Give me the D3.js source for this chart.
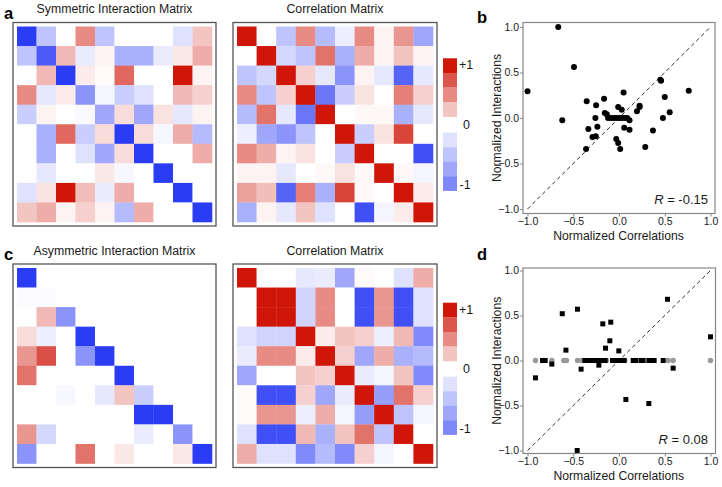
<!DOCTYPE html>
<html><head><meta charset="utf-8">
<script src="https://cdn.jsdelivr.net/npm/d3@7"></script>
<style>body{margin:0;background:#fff}svg{display:block}text{font-family:"Liberation Sans",Arial,Helvetica,sans-serif;fill:#1a1a1a}</style>
</head><body><svg id="chart" width="722" height="487"></svg>
<script>
// ---------- data ----------
const symInteraction = [
  [-1,-0.3,0,0.5,-0.3,0,0,0,-0.15,0.25],
  [-0.3,-0.85,0.3,-0.1,0.05,-0.4,-0.4,-0.1,0.1,0.35],
  [0,0.3,-1,0.08,0.02,0.65,0,0,1,0.05],
  [0.5,-0.12,0.08,-0.55,-0.05,-0.25,-0.15,0,0.3,0.2],
  [-0.25,0.05,0,-0.03,-0.45,0.15,-0.45,0.12,-0.12,0.05],
  [0,-0.4,0.65,-0.25,0.15,-1,0.15,-0.04,0.35,-0.35],
  [0,-0.4,0,-0.15,-0.45,0.15,-1,0,0,0.35],
  [0,-0.12,0,0,0.1,-0.04,0,-1,0,0],
  [-0.15,0.12,1,0.28,-0.1,0.35,0,0,-1,0],
  [0.25,0.35,0.05,0.2,0.05,-0.35,0.35,0,0,-1]
];
const corrTop = [
  [1,0,-0.3,0.5,-0.35,-0.08,0.5,0.05,0.45,-0.45],
  [0,1,-0.2,-0.3,0.6,-0.4,0.35,0.05,0.25,0.05],
  [-0.3,-0.2,1,0.2,-0.12,-0.55,0.05,-0.12,-0.8,-0.12],
  [0.5,-0.3,0.2,1,-0.7,-0.25,0.12,0,0.55,0.2],
  [-0.35,0.6,-0.12,-0.7,1,0,0.03,0.03,-0.4,-0.12],
  [-0.08,-0.45,-0.55,-0.3,0,1,-0.25,0.12,0.8,0],
  [0.5,0.35,0.05,0.12,0,-0.25,1,0,0,-0.9],
  [0.05,0.05,-0.12,0,0.03,0.12,0.03,1,0.03,-0.05],
  [0.4,0.28,-0.8,0.55,-0.4,0.8,0.03,0,1,0.08],
  [-0.4,0.05,-0.12,0.25,-0.15,0,-0.9,-0.05,0.08,1]
];
const asymInteraction = [
  [-1,0,0,0,0,0,0,0,0,0],
  [-0.02,-0.02,0,0,0,0,0,0,0,0],
  [0,0.3,-0.55,0,0,0,0,0,0,0],
  [0.15,-0.08,0,-1,0,0,0,0,0,0],
  [0.45,0.75,0,-0.55,-1,0,0,0,0,0],
  [0.6,0,0,0,0,-1,0,0,0,0],
  [0,0,-0.04,0,-0.12,0.25,-0.25,0,0,0],
  [0,0,0,0,0,0,-1,-1,0,0],
  [0.45,-0.2,0,0,0,0,-0.1,0,-0.55,0],
  [-0.55,0,0,0.6,0,0.1,0,0,0.1,-1]
];
const corrBottom = [
  [1,0,0,-0.12,-0.1,-0.45,0.02,0,-0.15,0.35],
  [0,1,1,-0.22,0.5,0,-0.9,0.45,-0.9,-0.15],
  [0,1,1,-0.22,0.5,0,-0.9,0.45,-0.9,-0.15],
  [-0.15,-0.22,-0.22,1,0.08,0.25,0.2,-0.08,0.3,-0.6],
  [-0.1,0.5,0.5,0.08,1,0.2,-0.45,0.35,-0.4,-0.35],
  [-0.45,0,0,0.25,0.2,1,-0.1,-0.05,0.25,-0.6],
  [0.02,-0.9,-0.9,0.2,-0.45,-0.1,1,-0.5,0.6,0.2],
  [0.02,0.45,0.45,-0.08,0.35,-0.05,-0.5,1,-0.3,-0.05],
  [-0.15,-0.9,-0.9,0.3,-0.4,0.25,0.6,-0.3,1,0],
  [0.35,-0.15,-0.15,-0.6,-0.35,-0.6,0.2,-0.05,0,1]
];
const legendRed = [1, 0.73, 0.5, 0.25];
const legendBlue = [-0.15, -0.3, -0.45, -0.61];
const legendLabels = ["+1", "0", "-1"];
const tickValues = [-1, -0.5, 0, 0.5, 1];
const scatterB = [
  [-0.664,1.0],[-1.0,0.293],[-0.492,0.56],[-0.62,-0.026],[-0.353,0.183],[-0.335,-0.121],
  [-0.36,-0.34],[-0.25,0.14],[-0.258,0.0],[-0.29,-0.209],[-0.254,-0.2],[-0.236,-0.095],
  [-0.163,0.212],[-0.155,0.055],[-0.133,0.04],[-0.12,0],[-0.09,0],[-0.06,0],[-0.03,0],
  [0,0],[0.03,0],[0.06,0],[0.09,0],[-0.009,0.12],[0.03,0.09],[0.05,0.28],[0.057,-0.106],
  [0.115,-0.128],[0.115,-0.026],[-0.03,-0.23],[-0.009,-0.275],[0.013,-0.34],[0.196,0.073],
  [0.225,0.12],[0.225,0.135],[0.287,-0.32],[0.371,-0.136],[0.452,0.42],[0.46,0.41],
  [0.5,0.23],[0.48,0.0],[0.554,0.062],[0.762,0.3]
];
const scatterDGray = [
  [-0.913,0],[-0.821,0],[-0.734,0],[-0.603,0],[-0.574,0],[-0.454,0],[-0.41,0],[-0.228,0],
  [-0.137,0],[-0.002,0],[0.064,0],[0.18,0],[0.355,0],[0.537,0],[0.592,0],[1.0,0]
];
const scatterDSquares = [
  [-0.913,-0.193],[-0.836,0],[-0.807,0],[-0.734,-0.04],[-0.62,0.52],[-0.58,0.115],
  [-0.454,0.57],[-0.414,-0.096],[-0.373,0],[-0.344,0],[-0.315,0],[-0.286,0],[-0.257,0],
  [-0.22,-0.052],[-0.209,0],[-0.18,0],[-0.151,0],[-0.177,0.407],[-0.147,0.137],[-0.1,0.219],
  [-0.09,0.426],[-0.071,0],[-0.042,0],[-0.016,0],[0.009,0],[0.035,0],[0.056,0],
  [-0.002,0.107],[0.075,-0.433],[0.155,0],[0.18,0],[0.239,0],[0.264,0],[0.326,0],
  [0.355,0],[0.384,0],[0.326,-0.478],[0.483,0],[0.53,0.68],[0.592,-0.085],[1.0,0.263],
  [-0.457,-1.0]
];
const rValueB = "-0.15";
const rValueD = "0.08";

// ---------- drawing ----------
const svg = d3.select("#chart");
const color = d3.scaleLinear().domain([-1, 0, 1]).range(["#2b3cf5", "#ffffff", "#cf1608"]);
const fmt = d3.format(".1f");

function matrix(data, fx, fy, fw, fh, title, titleY) {
  const g = svg.append("g");
  const pad = 4;
  const x = d3.scaleBand().domain(d3.range(10)).range([fx + pad, fx + fw - pad]);
  const y = d3.scaleBand().domain(d3.range(10)).range([fy + pad, fy + fh - pad]);
  data.forEach((row, i) => row.forEach((v, j) => {
    g.append("rect").attr("x", x(j)).attr("y", y(i))
      .attr("width", x.bandwidth() + 0.3).attr("height", y.bandwidth() + 0.3)
      .attr("fill", color(v));
  }));
  g.append("rect").attr("x", fx).attr("y", fy).attr("width", fw).attr("height", fh)
    .attr("fill", "none").attr("stroke", "#555").attr("stroke-width", 1.3);
  g.append("text").attr("x", fx + fw / 2).attr("y", titleY).attr("text-anchor", "middle")
    .attr("font-size", 12.3).text(title);
}

function legend(top1, top2) {
  const g = svg.append("g");
  const yr = d3.scaleBand().domain(d3.range(4)).range([top1, top1 + 58.4]);
  const yb = d3.scaleBand().domain(d3.range(4)).range([top2, top2 + 58]);
  legendRed.forEach((v, i) => g.append("rect").attr("x", 443).attr("y", yr(i))
    .attr("width", 14).attr("height", yr.bandwidth() + 0.2).attr("fill", color(v)));
  legendBlue.forEach((v, i) => g.append("rect").attr("x", 443).attr("y", yb(i))
    .attr("width", 14).attr("height", yb.bandwidth() + 0.2).attr("fill", color(v)));
  g.append("text").attr("x", 459).attr("y", top1 + 11).attr("font-size", 12.5).text(legendLabels[0]);
  g.append("text").attr("x", 466.5).attr("y", (top1 + 58.4 + top2) / 2 + 4.5).attr("text-anchor", "middle")
    .attr("font-size", 12.5).text(legendLabels[1]);
  g.append("text").attr("x", 459.5).attr("y", top2 + 56).attr("font-size", 12.5).text(legendLabels[2]);
}

function scatter(fx0, fy0, fx1, fy1, yr0, yr1, rText, drawPts) {
  const g = svg.append("g");
  const x = d3.scaleLinear().domain([-1, 1]).range([527.5, 710.5]);
  const y = d3.scaleLinear().domain([-1, 1]).range([yr1, yr0]);
  g.append("line").attr("x1", x(-1)).attr("y1", y(-1)).attr("x2", x(1)).attr("y2", y(1))
    .attr("stroke", "#333").attr("stroke-width", 1).attr("stroke-dasharray", "4,3");
  drawPts(g, x, y);
  g.append("rect").attr("x", fx0).attr("y", fy0).attr("width", fx1 - fx0).attr("height", fy1 - fy0)
    .attr("fill", "none").attr("stroke", "#888").attr("stroke-width", 1.2);
  const ax = g.append("g").attr("transform", `translate(0,${fy1})`)
    .call(d3.axisBottom(x).tickValues(tickValues).tickSize(3).tickPadding(1.5).tickFormat(fmt));
  const ay = g.append("g").attr("transform", `translate(${fx0},0)`)
    .call(d3.axisLeft(y).tickValues(tickValues).tickSize(3).tickPadding(1).tickFormat(fmt));
  [ax, ay].forEach(a => {
    a.select(".domain").remove();
    a.selectAll("line").attr("stroke", "#888");
    a.selectAll("text").attr("font-size", 10.5).attr("fill", "#333")
      .style("font-family", '"Liberation Sans",Arial,sans-serif');
  });
  g.append("text").attr("x", (fx0 + fx1) / 2 - 0.5).attr("y", fy1 + 26).attr("text-anchor", "middle")
    .attr("font-size", 12.2).text("Normalized Correlations");
  g.append("text").attr("transform", `translate(501,${(fy0 + fy1) / 2}) rotate(-90)`)
    .attr("text-anchor", "middle").attr("font-size", 12.2).text("Normalized Interactions");
  const t = g.append("text").attr("x", 708).attr("y", fy1 - 9.5).attr("text-anchor", "end").attr("font-size", 13);
  t.append("tspan").attr("font-style", "italic").text("R");
  t.append("tspan").text(" = " + rText);
}

// panel letters
[["a", 4, 19], ["b", 477, 22.5], ["c", 4, 260], ["d", 477, 260]].forEach(([l, x, y]) =>
  svg.append("text").attr("x", x).attr("y", y).attr("font-size", 16.5).attr("font-weight", "bold")
    .style("fill", "#000").text(l));

matrix(symInteraction, 13, 22.5, 203, 203.5, "Symmetric Interaction Matrix", 13.3);
matrix(corrTop, 233, 22.5, 204, 203.5, "Correlation Matrix", 13.3);
matrix(asymInteraction, 13, 264, 203, 203.5, "Asymmetric Interaction Matrix", 254.5);
matrix(corrBottom, 233, 264, 204, 203.5, "Correlation Matrix", 254.5);
legend(58.3, 132.7);
legend(302.7, 376.7);

scatter(523, 22.5, 715, 213.5, 27, 209, rValueB, (g, x, y) => {
  g.selectAll("circle.b").data(scatterB).join("circle").attr("cx", d => x(d[0])).attr("cy", d => y(d[1]))
    .attr("r", 3).attr("fill", "#000");
});
scatter(523, 268, 715.5, 453.5, 270.5, 450.5, rValueD, (g, x, y) => {
  g.selectAll("circle.g").data(scatterDGray).join("circle").attr("cx", d => x(d[0])).attr("cy", d => y(d[1]))
    .attr("r", 2.7).attr("fill", "#999");
  g.selectAll("rect.s").data(scatterDSquares).join("rect").attr("x", d => x(d[0]) - 2.5).attr("y", d => y(d[1]) - 2.5)
    .attr("width", 5).attr("height", 5).attr("fill", "#000");
});
</script></body></html>
